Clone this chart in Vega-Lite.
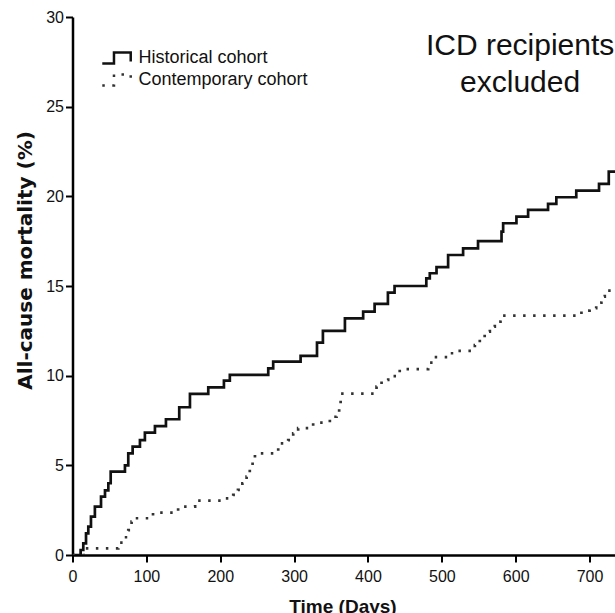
{
  "$schema": "https://vega.github.io/schema/vega-lite/v6.json",
  "autosize": "none",
  "width": 554,
  "height": 538,
  "padding": {"left": 72.5, "top": 17, "right": 0, "bottom": 58},
  "background": "white",
  "config": {"view": {"stroke": null}},
  "datasets": {
    "km": [
      {"cohort": "Historical cohort", "day": 0, "pct": 0},
      {"cohort": "Historical cohort", "day": 8, "pct": 0},
      {"cohort": "Historical cohort", "day": 11, "pct": 0.28},
      {"cohort": "Historical cohort", "day": 14.6, "pct": 0.65},
      {"cohort": "Historical cohort", "day": 18.3, "pct": 1.21},
      {"cohort": "Historical cohort", "day": 21.4, "pct": 1.58},
      {"cohort": "Historical cohort", "day": 25, "pct": 2.14},
      {"cohort": "Historical cohort", "day": 30.3, "pct": 2.7},
      {"cohort": "Historical cohort", "day": 38.6, "pct": 3.25},
      {"cohort": "Historical cohort", "day": 44, "pct": 3.6},
      {"cohort": "Historical cohort", "day": 48.5, "pct": 4.0},
      {"cohort": "Historical cohort", "day": 51.7, "pct": 4.65},
      {"cohort": "Historical cohort", "day": 71, "pct": 5.0},
      {"cohort": "Historical cohort", "day": 75.5, "pct": 5.67},
      {"cohort": "Historical cohort", "day": 81.4, "pct": 6.04},
      {"cohort": "Historical cohort", "day": 91.3, "pct": 6.41},
      {"cohort": "Historical cohort", "day": 98, "pct": 6.82},
      {"cohort": "Historical cohort", "day": 111.6, "pct": 7.19},
      {"cohort": "Historical cohort", "day": 126.5, "pct": 7.57},
      {"cohort": "Historical cohort", "day": 144.5, "pct": 8.24},
      {"cohort": "Historical cohort", "day": 159, "pct": 8.98},
      {"cohort": "Historical cohort", "day": 183.8, "pct": 9.35},
      {"cohort": "Historical cohort", "day": 205, "pct": 9.72},
      {"cohort": "Historical cohort", "day": 213, "pct": 10.04},
      {"cohort": "Historical cohort", "day": 265, "pct": 10.41},
      {"cohort": "Historical cohort", "day": 271.7, "pct": 10.78},
      {"cohort": "Historical cohort", "day": 308.8, "pct": 11.1},
      {"cohort": "Historical cohort", "day": 331, "pct": 11.84},
      {"cohort": "Historical cohort", "day": 339, "pct": 12.5},
      {"cohort": "Historical cohort", "day": 368.8, "pct": 13.2},
      {"cohort": "Historical cohort", "day": 393.5, "pct": 13.57},
      {"cohort": "Historical cohort", "day": 409, "pct": 14.0},
      {"cohort": "Historical cohort", "day": 427, "pct": 14.63},
      {"cohort": "Historical cohort", "day": 436, "pct": 15.0},
      {"cohort": "Historical cohort", "day": 479, "pct": 15.43},
      {"cohort": "Historical cohort", "day": 483.7, "pct": 15.71},
      {"cohort": "Historical cohort", "day": 492.8, "pct": 16.05},
      {"cohort": "Historical cohort", "day": 508.5, "pct": 16.73},
      {"cohort": "Historical cohort", "day": 528.8, "pct": 17.1},
      {"cohort": "Historical cohort", "day": 549, "pct": 17.5},
      {"cohort": "Historical cohort", "day": 580.8, "pct": 18.03},
      {"cohort": "Historical cohort", "day": 583, "pct": 18.5},
      {"cohort": "Historical cohort", "day": 601, "pct": 18.87},
      {"cohort": "Historical cohort", "day": 616.8, "pct": 19.24},
      {"cohort": "Historical cohort", "day": 643.8, "pct": 19.58},
      {"cohort": "Historical cohort", "day": 655, "pct": 19.95},
      {"cohort": "Historical cohort", "day": 682, "pct": 20.32},
      {"cohort": "Historical cohort", "day": 712.8, "pct": 20.69},
      {"cohort": "Historical cohort", "day": 726, "pct": 21.38},
      {"cohort": "Historical cohort", "day": 760, "pct": 21.38},
      {"cohort": "Contemporary cohort", "day": 0, "pct": 0},
      {"cohort": "Contemporary cohort", "day": 18, "pct": 0.37},
      {"cohort": "Contemporary cohort", "day": 62, "pct": 0.69},
      {"cohort": "Contemporary cohort", "day": 68.7, "pct": 0.99},
      {"cohort": "Contemporary cohort", "day": 75.5, "pct": 1.39},
      {"cohort": "Contemporary cohort", "day": 80, "pct": 1.86},
      {"cohort": "Contemporary cohort", "day": 84.6, "pct": 2.05},
      {"cohort": "Contemporary cohort", "day": 109, "pct": 2.36},
      {"cohort": "Contemporary cohort", "day": 143, "pct": 2.7},
      {"cohort": "Contemporary cohort", "day": 166, "pct": 3.03},
      {"cohort": "Contemporary cohort", "day": 206, "pct": 3.16},
      {"cohort": "Contemporary cohort", "day": 217.6, "pct": 3.35},
      {"cohort": "Contemporary cohort", "day": 224, "pct": 3.63},
      {"cohort": "Contemporary cohort", "day": 230, "pct": 4.0},
      {"cohort": "Contemporary cohort", "day": 235.7, "pct": 4.37},
      {"cohort": "Contemporary cohort", "day": 240, "pct": 4.83},
      {"cohort": "Contemporary cohort", "day": 243.8, "pct": 5.3},
      {"cohort": "Contemporary cohort", "day": 247, "pct": 5.67},
      {"cohort": "Contemporary cohort", "day": 278.5, "pct": 6.23},
      {"cohort": "Contemporary cohort", "day": 292, "pct": 6.41},
      {"cohort": "Contemporary cohort", "day": 298.8, "pct": 6.78},
      {"cohort": "Contemporary cohort", "day": 305.5, "pct": 7.07},
      {"cohort": "Contemporary cohort", "day": 325.8, "pct": 7.38},
      {"cohort": "Contemporary cohort", "day": 348.4, "pct": 7.71},
      {"cohort": "Contemporary cohort", "day": 357.5, "pct": 7.99},
      {"cohort": "Contemporary cohort", "day": 361, "pct": 8.46},
      {"cohort": "Contemporary cohort", "day": 363, "pct": 9.0},
      {"cohort": "Contemporary cohort", "day": 411.6, "pct": 9.39},
      {"cohort": "Contemporary cohort", "day": 418.4, "pct": 9.76},
      {"cohort": "Contemporary cohort", "day": 427.4, "pct": 9.98},
      {"cohort": "Contemporary cohort", "day": 443, "pct": 10.37},
      {"cohort": "Contemporary cohort", "day": 481.5, "pct": 10.73},
      {"cohort": "Contemporary cohort", "day": 488, "pct": 11.03},
      {"cohort": "Contemporary cohort", "day": 510.8, "pct": 11.25},
      {"cohort": "Contemporary cohort", "day": 522, "pct": 11.38},
      {"cohort": "Contemporary cohort", "day": 544.7, "pct": 11.71},
      {"cohort": "Contemporary cohort", "day": 551.4, "pct": 12.09},
      {"cohort": "Contemporary cohort", "day": 558, "pct": 12.46},
      {"cohort": "Contemporary cohort", "day": 565, "pct": 12.73},
      {"cohort": "Contemporary cohort", "day": 571.7, "pct": 13.01},
      {"cohort": "Contemporary cohort", "day": 579.4, "pct": 13.35},
      {"cohort": "Contemporary cohort", "day": 689, "pct": 13.63},
      {"cohort": "Contemporary cohort", "day": 700, "pct": 13.76},
      {"cohort": "Contemporary cohort", "day": 709, "pct": 14.07},
      {"cohort": "Contemporary cohort", "day": 716, "pct": 14.41},
      {"cohort": "Contemporary cohort", "day": 720.6, "pct": 14.74},
      {"cohort": "Contemporary cohort", "day": 760, "pct": 14.74}
    ],
    "note": [{"label": "ICD recipients excluded"}]
  },
  "layer": [
    {
      "data": {"name": "km"},
      "mark": {"type": "line", "interpolate": "step-after", "clip": true, "strokeWidth": 2.7, "strokeCap": "butt"},
      "encoding": {
        "x": {
          "field": "day", "type": "quantitative",
          "scale": {"domain": [0, 750], "nice": false, "zero": false},
          "axis": {
            "values": [0, 100, 200, 300, 400, 500, 600, 700],
            "title": "Time (Days)", "grid": false,
            "domainColor": "#000", "domainWidth": 2.5,
            "tickColor": "#000", "tickWidth": 2, "tickSize": 7,
            "labelFont": "Liberation Sans", "labelFontSize": 16, "labelColor": "#111", "labelPadding": 6, "labelFlush": false,
            "titleFont": "Liberation Sans", "titleFontSize": 19, "titleFontWeight": "bold", "titleColor": "#111",
            "titleX": 270, "titleY": 57, "titleBaseline": "alphabetic", "titleAlign": "center"
          }
        },
        "y": {
          "field": "pct", "type": "quantitative",
          "scale": {"domain": [0, 30], "nice": false},
          "axis": {
            "values": [0, 5, 10, 15, 20, 25, 30],
            "title": "All-cause mortality (%)", "grid": false,
            "domainColor": "#000", "domainWidth": 2.5,
            "tickColor": "#000", "tickWidth": 2, "tickSize": 7,
            "labelFont": "Liberation Sans", "labelFontSize": 16, "labelColor": "#111", "labelPadding": 2,
            "titleFont": "DejaVu Sans", "titleFontSize": 20, "titleFontWeight": "bold", "titleColor": "#111",
            "titleAngle": -90, "titleX": -41, "titleY": 243, "titleAlign": "center", "titleBaseline": "alphabetic"
          }
        },
        "color": {
          "field": "cohort", "type": "nominal",
          "scale": {"domain": ["Historical cohort", "Contemporary cohort"], "range": ["#111111", "#333333"]},
          "legend": {
            "title": null, "orient": "none", "legendX": 35, "legendY": 32, "padding": 0,
            "symbolType": "M-2.37,0.9H-0.42V-0.9H2.37V0.6", "symbolSize": 144, "symbolStrokeWidth": 2.5, "symbolFillColor": "transparent",
            "labelFont": "Liberation Sans", "labelFontSize": 18, "labelColor": "#111", "labelOffset": 13, "labelLimit": 400, "rowPadding": 0
          }
        },
        "strokeDash": {
          "field": "cohort", "type": "nominal",
          "scale": {"domain": ["Historical cohort", "Contemporary cohort"], "range": [[1, 0], [2.5, 7.5]]},
          "legend": {
            "title": null, "orient": "none", "legendX": 35, "legendY": 32, "padding": 0,
            "symbolType": "M-2.37,0.9H-0.42V-0.9H2.37V0.6", "symbolSize": 144, "symbolStrokeWidth": 2.5, "symbolFillColor": "transparent",
            "labelFont": "Liberation Sans", "labelFontSize": 18, "labelColor": "#111", "labelOffset": 13, "labelLimit": 400, "rowPadding": 0
          }
        }
      }
    },
    {
      "data": {"name": "note"},
      "mark": {"type": "text", "text": ["ICD recipients", "excluded"], "font": "Liberation Sans", "fontSize": 30, "lineHeight": 37, "align": "center", "baseline": "alphabetic", "color": "#111"},
      "encoding": {
        "x": {"datum": 606, "type": "quantitative"},
        "y": {"datum": 27.89, "type": "quantitative"}
      }
    }
  ]
}
